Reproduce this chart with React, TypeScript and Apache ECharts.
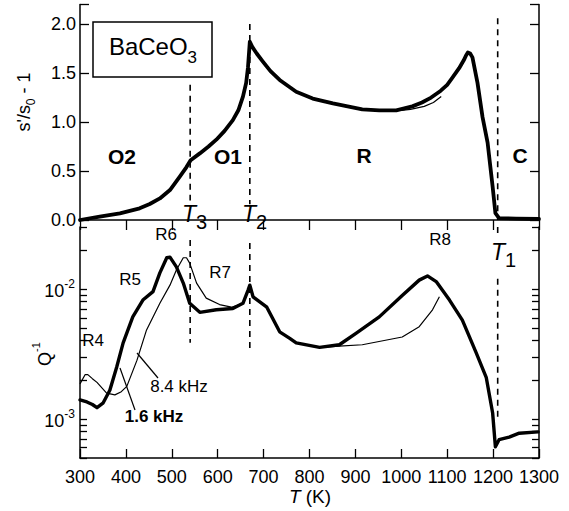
import React, { useEffect, useRef } from "react";
import * as echarts from "echarts";

// ---------- data ----------
// Top panel: s'/s0 - 1 versus temperature (K)
const strainT = [300, 343, 387, 430, 452, 474, 496, 517, 532, 541, 561, 580, 597, 615, 633, 645, 655, 662, 666, 670, 675, 685, 698, 715, 735, 771, 807, 851, 915, 952, 989, 1024, 1045, 1065, 1086, 1100, 1111, 1126, 1136, 1141, 1145, 1150, 1155, 1166, 1177, 1188, 1199, 1205, 1213, 1250, 1300];
const strainV = [0.0, 0.034, 0.068, 0.119, 0.163, 0.22, 0.306, 0.44, 0.54, 0.61, 0.68, 0.75, 0.82, 0.91, 1.02, 1.12, 1.26, 1.4, 1.56, 1.82, 1.77, 1.7, 1.62, 1.52, 1.43, 1.31, 1.24, 1.19, 1.13, 1.12, 1.12, 1.16, 1.2, 1.25, 1.32, 1.38, 1.45, 1.55, 1.63, 1.68, 1.71, 1.7, 1.66, 1.4, 1.05, 0.79, 0.34, 0.07, 0.02, 0.015, 0.01];
const strainThinT = [975, 1000, 1020, 1050, 1070, 1087];
const strainThinV = [1.12, 1.12, 1.13, 1.16, 1.2, 1.26];

// Bottom panel: internal friction Q^-1, 1.6 kHz (thick) and 8.4 kHz (thin)
const q16T = [300, 315, 327, 337, 350, 365, 380, 394, 415, 437, 459, 474, 489, 496, 510, 525, 539, 561, 597, 633, 655, 666, 670, 677, 707, 735, 757, 771, 822, 865, 902, 952, 1002, 1039, 1057, 1076, 1105, 1133, 1163, 1185, 1199, 1205, 1213, 1235, 1257, 1298];
const q16V = [1.40e-3, 1.35e-3, 1.29e-3, 1.22e-3, 1.32e-3, 1.66e-3, 2.51e-3, 3.85e-3, 6.10e-3, 8.22e-3, 9.55e-3, 1.33e-2, 1.74e-2, 1.76e-2, 1.48e-2, 1.11e-2, 7.76e-3, 6.61e-3, 6.92e-3, 7.08e-3, 7.76e-3, 9.77e-3, 1.07e-2, 8.71e-3, 7.24e-3, 4.68e-3, 4.17e-3, 3.85e-3, 3.55e-3, 3.72e-3, 4.57e-3, 6.10e-3, 8.91e-3, 1.17e-2, 1.26e-2, 1.14e-2, 8.22e-3, 5.75e-3, 3.24e-3, 2.09e-3, 1.11e-3, 6.10e-4, 6.92e-4, 7.24e-4, 7.76e-4, 7.94e-4];
const q84T = [300, 311, 317, 327, 337, 358, 376, 390, 402, 424, 445, 474, 496, 510, 525, 532, 539, 554, 575, 604, 630, 655, 666, 670, 677, 707, 735, 757, 771, 822, 865, 915, 1002, 1039, 1068, 1083];
const q84V = [1.86e-3, 2.19e-3, 2.19e-3, 2.04e-3, 1.91e-3, 1.58e-3, 1.53e-3, 1.62e-3, 1.78e-3, 2.82e-3, 4.84e-3, 7.76e-3, 1.07e-2, 1.40e-2, 1.74e-2, 1.74e-2, 1.58e-2, 1.11e-2, 8.51e-3, 7.59e-3, 7.24e-3, 7.76e-3, 9.77e-3, 1.07e-2, 8.71e-3, 7.24e-3, 4.68e-3, 4.17e-3, 3.85e-3, 3.55e-3, 3.63e-3, 3.72e-3, 4.27e-3, 5.13e-3, 6.92e-3, 8.71e-3];

// Transition temperatures (dashed lines)
const dashTopT = [540, 670, 1210];
const dashTopFrom = [1.38, 2.0, 2.06];
const dashTopTo = [0.2, 0.16, 0.0];
const dashBotT = [540, 670, 1210, 1210];
const dashBotFrom = [2.38e-2, 2.26e-2, 3.0e-2, 1.2e-2];
const dashBotTo = [3.85e-3, 3.27e-3, 2.55e-2, 1.0e-3];

// Axes
const tempMin = 300;
const tempMax = 1300;
const strainMax = 2.2;
const qMin = 5e-4;
const qMax = 3e-2;
const qTickValues = [5e-4, 6e-4, 7e-4, 8e-4, 9e-4, 1e-3, 2e-3, 3e-3, 4e-3, 5e-3, 6e-3, 7e-3, 8e-3, 9e-3, 1e-2, 2e-2, 3e-2];
const qLabelValues = [1e-3, 1e-2];

const FONT = '"Liberation Sans", Arial, Helvetica, sans-serif';
const BLACK = "#000";

export default function App() {
  const ref = useRef<HTMLDivElement | null>(null);

  useEffect(() => {
    if (!ref.current) return;
    const chart = echarts.init(ref.current, undefined, { renderer: "svg" });
    const lg = (v: number) => Math.log10(v);

    const axisLine = { show: true, lineStyle: { color: BLACK, width: 1.5 } };
    const tick = (len: number) => ({ show: true, inside: true, length: len, lineStyle: { color: BLACK, width: 1.3 } });

    const dashStyle = { color: BLACK, width: 1.6, type: [6, 5] as any };

    const series: any[] = [
      {
        type: "line", xAxisIndex: 0, yAxisIndex: 0, symbol: "none",
        data: strainThinT.map((t, i) => [t, strainThinV[i]]),
        lineStyle: { color: BLACK, width: 1.2 },
      },
      {
        type: "line", xAxisIndex: 0, yAxisIndex: 0, symbol: "none",
        data: strainT.map((t, i) => [t, strainV[i]]),
        lineStyle: { color: BLACK, width: 3.8, join: "round", cap: "round" },
      },
      {
        type: "line", xAxisIndex: 1, yAxisIndex: 2, symbol: "none",
        data: q84T.map((t, i) => [t, lg(q84V[i])]),
        lineStyle: { color: BLACK, width: 1.2 },
      },
      {
        type: "line", xAxisIndex: 1, yAxisIndex: 2, symbol: "none",
        data: q16T.map((t, i) => [t, lg(q16V[i])]),
        lineStyle: { color: BLACK, width: 3.4, join: "round", cap: "round" },
      },
      ...dashTopT.map((t, i) => ({
        type: "line", xAxisIndex: 0, yAxisIndex: 0, symbol: "none",
        data: [[t, dashTopFrom[i]], [t, dashTopTo[i]]],
        lineStyle: dashStyle,
      })),
      ...dashBotT.map((t, i) => ({
        type: "line", xAxisIndex: 1, yAxisIndex: 2, symbol: "none",
        data: [[t, lg(dashBotFrom[i])], [t, lg(dashBotTo[i])]],
        lineStyle: dashStyle,
      })),
    ];

    const txt = (x: number, y: number, text: string, font: string, extra: any = {}) => ({
      type: "text", x, y, silent: true,
      style: { text, font, fill: BLACK, textAlign: "center", textVerticalAlign: "middle", ...extra },
    });

    const tLabel = (x: number, y: number, sub: string) => ({
      type: "text", x, y, silent: true,
      style: {
        text: `{t|T}{s|${sub}}`, fill: BLACK, textAlign: "left", textVerticalAlign: "middle",
        rich: {
          t: { fontFamily: FONT, fontSize: 23, fontStyle: "italic", lineHeight: 30, verticalAlign: "top", fill: BLACK },
          s: { fontFamily: FONT, fontSize: 20, lineHeight: 20, verticalAlign: "bottom", fill: BLACK },
        },
      },
    });

    const option: any = {
      animation: false,
      backgroundColor: "#fff",
      grid: [
        { left: 80, right: 30, top: 4.5, height: 215.5, outerBoundsMode: "none" },
        { left: 80, right: 30, top: 227, height: 231, outerBoundsMode: "none" },
      ],
      xAxis: [
        {
          gridIndex: 0, type: "value", position: "top", min: tempMin, max: tempMax, interval: 100,
          axisLine, axisTick: tick(10), axisLabel: { show: false }, splitLine: { show: false },
        },
        {
          gridIndex: 1, type: "value", position: "bottom", min: tempMin, max: tempMax, interval: 100,
          axisLine, axisTick: tick(9), splitLine: { show: false },
          axisLabel: {
            show: true, color: BLACK, fontFamily: FONT, fontSize: 18, margin: 10,
            formatter: (v: number) => String(Math.round(v)),
          },
        },
      ],
      yAxis: [
        {
          gridIndex: 0, type: "value", position: "left", min: 0, max: strainMax, interval: 0.5,
          axisLine, axisTick: tick(9), splitLine: { show: false },
          axisLabel: {
            show: true, color: BLACK, fontFamily: FONT, fontSize: 18, margin: 4,
            formatter: (v: number) => (Math.abs(v % 0.5) < 1e-6 ? v.toFixed(1) : ""),
          },
        },
        {
          gridIndex: 0, type: "value", position: "right", min: 0, max: strainMax, interval: 0.5,
          axisLine, axisTick: tick(9), axisLabel: { show: false }, splitLine: { show: false },
        },
        {
          gridIndex: 1, type: "value", position: "left", min: lg(qMin), max: lg(qMax),
          axisLine, splitLine: { show: false },
          axisTick: { ...tick(7), customValues: qTickValues.map(lg) },
          axisLabel: {
            show: true, margin: 5, customValues: qLabelValues.map(lg),
            formatter: (v: number) => `{b|10}{s|${Math.round(v)}}`,
            rich: {
              b: { fontFamily: FONT, fontSize: 18, lineHeight: 22, verticalAlign: "bottom", color: BLACK },
              s: { fontFamily: FONT, fontSize: 12, lineHeight: 12, verticalAlign: "top", color: BLACK },
            },
          },
        },
        {
          gridIndex: 1, type: "value", position: "right", min: lg(qMin), max: lg(qMax),
          axisLine, splitLine: { show: false },
          axisTick: { ...tick(7), customValues: qTickValues.map(lg) },
          axisLabel: { show: false },
        },
      ],
      series,
      graphic: [
        { type: "rect", shape: { x: 93, y: 22, width: 119, height: 55 }, style: { fill: "#fff", stroke: BLACK, lineWidth: 1.5 }, silent: true },
        {
          type: "text", x: 153, y: 50, silent: true,
          style: {
            text: "{b|BaCeO}{s|3}", fill: BLACK, textAlign: "center", textVerticalAlign: "middle",
            rich: {
              b: { fontFamily: FONT, fontSize: 24, lineHeight: 31, verticalAlign: "top", fill: BLACK },
              s: { fontFamily: FONT, fontSize: 17, lineHeight: 17, verticalAlign: "bottom", fill: BLACK },
            },
          },
        },
        txt(122, 156, "O2", `bold 21px ${FONT}`),
        txt(228, 156, "O1", `bold 21px ${FONT}`),
        txt(364, 155, "R", `bold 21px ${FONT}`),
        txt(520, 155, "C", `bold 21px ${FONT}`),
        tLabel(182, 217, "3"),
        tLabel(242, 217, "2"),
        tLabel(491, 255, "1"),
        txt(93, 340, "R4", `17px ${FONT}`),
        txt(130, 279, "R5", `17px ${FONT}`),
        txt(166, 234, "R6", `17px ${FONT}`),
        txt(220, 272, "R7", `17px ${FONT}`),
        txt(440, 239, "R8", `17px ${FONT}`),
        txt(179, 386, "8.4 kHz", `17px ${FONT}`),
        txt(154, 416, "1.6 kHz", `bold 17px ${FONT}`),
        { type: "line", shape: { x1: 137, y1: 353, x2: 158, y2: 378 }, style: { stroke: BLACK, lineWidth: 1.2 }, silent: true },
        { type: "line", shape: { x1: 120, y1: 368, x2: 135, y2: 410 }, style: { stroke: BLACK, lineWidth: 1.2 }, silent: true },
        {
          type: "text", x: 26, y: 102, rotation: Math.PI / 2, silent: true,
          style: {
            text: "{a|s'/s}{b|0}{a| - 1}", fill: BLACK, textAlign: "center", textVerticalAlign: "middle",
            rich: {
              a: { fontFamily: FONT, fontSize: 18, lineHeight: 22, verticalAlign: "top", fill: BLACK },
              b: { fontFamily: FONT, fontSize: 12, lineHeight: 12, verticalAlign: "bottom", fill: BLACK },
            },
          },
        },
        {
          type: "text", x: 42, y: 354, rotation: Math.PI / 2, silent: true,
          style: {
            text: "{a|Q}{b|-1}", fill: BLACK, textAlign: "center", textVerticalAlign: "middle",
            rich: {
              a: { fontFamily: FONT, fontSize: 18, lineHeight: 24, verticalAlign: "bottom", fill: BLACK },
              b: { fontFamily: FONT, fontSize: 11, lineHeight: 11, verticalAlign: "top", fill: BLACK },
            },
          },
        },
        {
          type: "text", x: 310, y: 496, silent: true,
          style: {
            text: "{i|T}{n| (K)}", fill: BLACK, textAlign: "center", textVerticalAlign: "middle",
            rich: {
              i: { fontFamily: FONT, fontSize: 19, fontStyle: "italic", fill: BLACK },
              n: { fontFamily: FONT, fontSize: 19, fill: BLACK },
            },
          },
        },
      ],
    };

    chart.setOption(option);
    return () => chart.dispose();
  }, []);

  return (
    <div
      ref={ref}
      style={{ position: "fixed", left: 0, top: 0, width: 569, height: 511, background: "#fff" }}
    />
  );
}
